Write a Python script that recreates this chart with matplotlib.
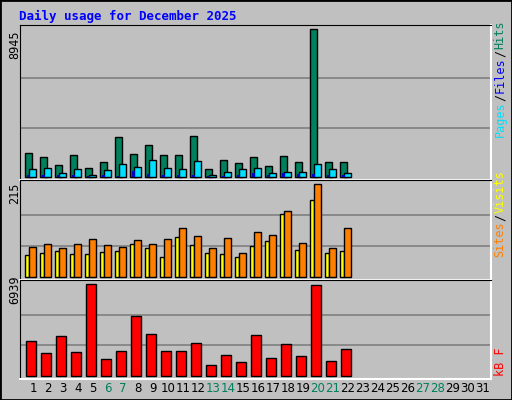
import matplotlib
matplotlib.use("Agg")
import matplotlib.pyplot as plt
from matplotlib.patches import Rectangle

days = list(range(1, 23))
all_days = list(range(1, 32))
weekend = [6, 7, 13, 14, 20, 21, 27, 28]
hits = [1477,1235,749,1356,567,931,2388,1417,1963,1356,1356,2449,506,1052,870,1235,688,1295,931,8945,931,931]
files = [506,567,263,506,142,445,810,627,1052,567,506,992,142,324,506,567,263,324,324,810,506,263]
pages = [140,120,100,110,90,100,90,380,180,100,110,120,70,90,100,240,120,240,160,200,150,100]
sites = [50,54,59,52,52,57,59,75,66,45,92,73,54,52,47,71,82,147,61,178,54,59]
visits = [68,75,66,75,87,73,68,85,75,87,113,94,66,89,54,103,96,154,78,215,66,113]
kbytes = [2608,1696,2988,1772,6939,1241,1848,4507,3140,1848,1848,2456,785,1545,1013,3064,1317,2380,1469,6862,1089,2000]

W, H = 512, 400
BG = "#C0C0C0"
fig = plt.figure(figsize=(W/100, H/100), dpi=100, facecolor=BG)
fig.patches.append(Rectangle((0, 0), 1, 1, transform=fig.transFigure, fill=False, edgecolor="black", lw=2))
mono = "DejaVu Sans Mono"

def axes_px(x0, y0, x1, y1):
    return fig.add_axes([x0/W, 1-y1/H, (x1-x0)/W, (y1-y0)/H])

def setup(ax, top_px, bot_px, zero_px, max_px, vmax):
    scale = vmax / (zero_px - max_px)
    ax.set_ylim(-(bot_px - zero_px)*scale, (zero_px - top_px)*scale)
    ax.set_xlim(0.133, 31.53)
    ax.set_facecolor(BG)
    for v in (vmax/3, 2*vmax/3):
        ax.axhline(v, color="#808080", lw=1.2, zorder=0)
    ax.set_xticks([]); ax.set_yticks([])
    for s in ("top", "left"):
        ax.spines[s].set_color("black")
    for s in ("bottom", "right"):
        ax.spines[s].set_color("white")
        ax.spines[s].set_linewidth(1.5)

bk = dict(edgecolor="black", linewidth=1)
a1 = axes_px(20, 25, 491, 180)
setup(a1, 25, 180, 177, 29, max(hits))
a1.bar([d-0.3 for d in days], hits, width=0.47, color="#00805c", **bk)
a1.bar([d-0.03 for d in days], files, width=0.47, color="#00E0FF", **bk)
a1.bar([d-0.3 for d in days], pages, width=0.15, color="#0000C0", linewidth=0)

a2 = axes_px(20, 180, 491, 280)
setup(a2, 180, 280, 276.7, 184.3, max(visits))
a2.bar([d-0.38 for d in days], sites, width=0.27, color="#FFFF00", **bk)
a2.bar([d-0.01 for d in days], visits, width=0.47, color="#FF8000", **bk)

a3 = axes_px(20, 280, 491, 379)
setup(a3, 280, 379, 375.7, 284.3, max(kbytes))
a3.bar([d-0.11 for d in days], kbytes, width=0.67, color="#FF0000", **bk)

fig.text(19/W, 1-16/H, "Daily usage for December 2025", color="#0000FF", family=mono,
         weight="bold", fontsize=9, va="center")
for y, v in ((45, max(hits)), (193, max(visits)), (290, max(kbytes))):
    fig.text(15/W, 1-y/H, str(v), rotation=90, ha="center", va="center", family=mono, fontsize=8.5)

def rlabel(parts, y_bottom):
    y = y_bottom
    for txt, col in parts:
        t = fig.text(500/W, 1-y/H, txt, rotation=90, color=col, family=mono, fontsize=8.5,
                     ha="center", va="bottom")
        y -= len(txt)*7.0 + 1
rlabel([("Pages", "#00E0FF"), ("/", "black"), ("Files", "#0000FF"), ("/", "black"), ("Hits", "#00805c")], 137)
rlabel([("Sites", "#FF8000"), ("/", "black"), ("Visits", "#FFFF00")], 257)
rlabel([("kB F", "#FF0000")], 376)

for d in all_days:
    x = 33 + 15*(d-1)
    fig.text(x/W, 1-389/H, str(d), ha="center", va="center", fontsize=8.5,
             color="#00805c" if d in weekend else "black")

fig.savefig("out.png", dpi=100, facecolor=BG)
